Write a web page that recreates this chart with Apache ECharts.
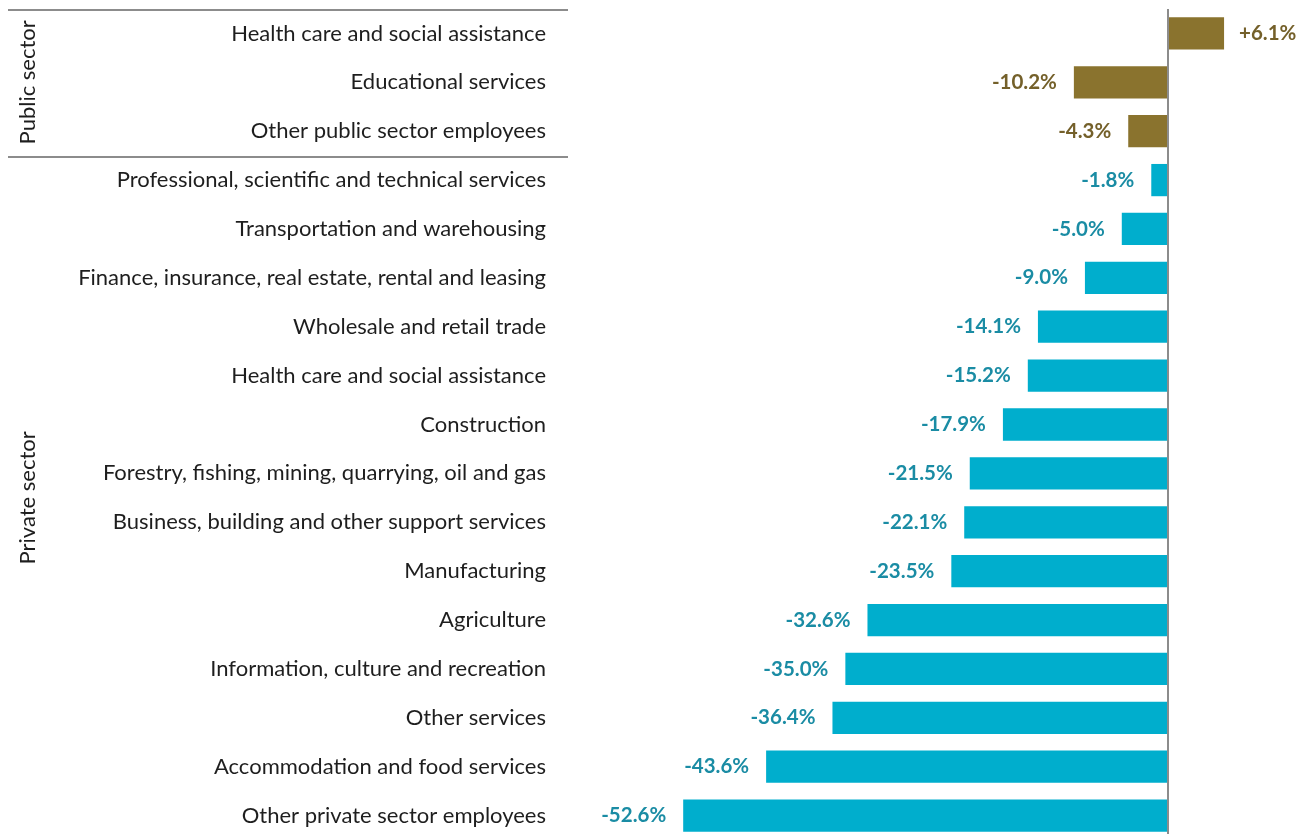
<!DOCTYPE html>
<html>
<head>
<meta charset="utf-8">
<script src="https://cdn.jsdelivr.net/npm/echarts@6/dist/echarts.min.js"></script>
<style>
  html, body { margin: 0; padding: 0; background: #ffffff; }
  #chart { width: 1313px; height: 834px; }
</style>
</head>
<body>
<div id="chart"></div>
<script>
// Industries, listed top to bottom
const categories = [
  'Health care and social assistance',
  'Educational services',
  'Other public sector employees',
  'Professional, scientific and technical services',
  'Transportation and warehousing',
  'Finance, insurance, real estate, rental and leasing',
  'Wholesale and retail trade',
  'Health care and social assistance',
  'Construction',
  'Forestry, fishing, mining, quarrying, oil and gas',
  'Business, building and other support services',
  'Manufacturing',
  'Agriculture',
  'Information, culture and recreation',
  'Other services',
  'Accommodation and food services',
  'Other private sector employees'
];
// Sector of each industry (same order)
const sectors = [
  'Public sector', 'Public sector', 'Public sector',
  'Private sector', 'Private sector', 'Private sector', 'Private sector',
  'Private sector', 'Private sector', 'Private sector', 'Private sector',
  'Private sector', 'Private sector', 'Private sector', 'Private sector',
  'Private sector', 'Private sector'
];
// Percentage change (same order)
const changes = [6.1, -10.2, -4.3, -1.8, -5.0, -9.0, -14.1, -15.2, -17.9, -21.5, -22.1, -23.5, -32.6, -35.0, -36.4, -43.6, -52.6];
const sectorNames = ['Public sector', 'Private sector'];

const barColors = { 'Public sector': '#8a732e', 'Private sector': '#00aecd' };
const labelColors = { 'Public sector': '#74602a', 'Private sector': '#1a8ca4' };
const FONT = 'Lato, "Open Sans", sans-serif';

const chart = echarts.init(document.getElementById('chart'), null, { renderer: 'canvas' });

const seriesData = changes.map((v, i) => ({
  value: v,
  itemStyle: { color: barColors[sectors[i]] },
  label: {
    position: v >= 0 ? 'right' : 'left',
    distance: v >= 0 ? 15 : 17,
    color: labelColors[sectors[i]]
  }
}));

chart.setOption({
  animation: false,
  backgroundColor: '#ffffff',
  grid: { left: 615, right: 53, top: 9, height: 831, outerBoundsMode: 'none', containLabel: false },
  xAxis: {
    type: 'value', min: -60, max: 10, interval: 10,
    show: false
  },
  yAxis: {
    type: 'category',
    data: categories,
    inverse: true,
    axisLine: { show: false, onZero: false },
    axisTick: { show: false },
    axisLabel: { margin: 69, fontSize: 22, color: '#1e1e1e', fontFamily: FONT }
  },
  series: [{
    type: 'bar',
    data: seriesData,
    barCategoryGap: '34%',
    label: {
      show: true,
      fontSize: 20.5,
      fontWeight: 'bold',
      fontFamily: FONT,
      formatter: p => (p.value > 0 ? '+' : '') + p.value.toFixed(1) + '%'
    },
    markLine: {
      silent: true,
      symbol: 'none',
      label: { show: false },
      lineStyle: { color: '#8c8c8c', width: 2, type: 'solid' },
      data: [{ xAxis: 0 }]
    }
  }]
});

// Sector brackets: separator lines and rotated sector names, placed from the category scale
function drawSectors() {
  const p0 = chart.convertToPixel({ yAxisIndex: 0 }, 0);
  const p1 = chart.convertToPixel({ yAxisIndex: 0 }, 1);
  const band = p1 - p0;
  const elements = [];
  let lineYs = [];
  sectorNames.forEach(name => {
    const idx = sectors.map((s, i) => s === name ? i : -1).filter(i => i >= 0);
    const yStart = chart.convertToPixel({ yAxisIndex: 0 }, idx[0]) - band / 2;
    const yEnd = chart.convertToPixel({ yAxisIndex: 0 }, idx[idx.length - 1]) + band / 2;
    if (name === 'Public sector') lineYs = [yStart, yEnd];
    elements.push({
      type: 'text',
      x: 28, y: (yStart + yEnd) / 2,
      rotation: Math.PI / 2,
      style: {
        text: name, fontSize: 22, fontFamily: FONT, fill: '#1e1e1e',
        align: 'center', verticalAlign: 'middle'
      }
    });
  });
  lineYs.forEach(y => {
    elements.push({
      type: 'line',
      shape: { x1: 8, y1: Math.round(y) + 1, x2: 568, y2: Math.round(y) + 1 },
      style: { stroke: '#8c8c8c', lineWidth: 2 }
    });
  });
  chart.setOption({ graphic: elements });
}
drawSectors();
</script>
</body>
</html>
